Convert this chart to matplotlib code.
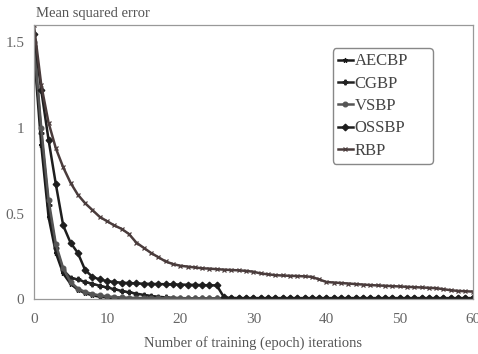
import matplotlib.pyplot as plt
import numpy as np

plt.rcParams['font.family'] = ['Liberation Serif', 'DejaVu Serif']

# epochs 0..60
epochs = list(range(0, 61))

# AECBP - fastest curve
aecbp = [1.45, 0.90, 0.48, 0.27, 0.15, 0.09, 0.055, 0.035, 0.022, 0.014,
         0.009, 0.006, 0.005, 0.004, 0.004, 0.003, 0.003, 0.003, 0.003, 0.003,
         0.003, 0.003, 0.003, 0.003, 0.003, 0.003, 0.003, 0.003, 0.003, 0.003,
         0.003, 0.003, 0.003, 0.003, 0.003, 0.003, 0.003, 0.003, 0.003, 0.003,
         0.003, 0.003, 0.003, 0.003, 0.003, 0.003, 0.003, 0.003, 0.003, 0.003,
         0.003, 0.003, 0.003, 0.003, 0.003, 0.003, 0.003, 0.003, 0.003, 0.003,
         0.003]

# CGBP - flattens near 0.12 then slowly goes down
cgbp = [1.48, 0.97, 0.55, 0.30, 0.17, 0.125, 0.115, 0.10, 0.09, 0.078,
        0.068, 0.058, 0.048, 0.040, 0.032, 0.025, 0.019, 0.014, 0.010, 0.008,
        0.006, 0.005, 0.005, 0.004, 0.004, 0.004, 0.004, 0.004, 0.004, 0.004,
        0.004, 0.004, 0.004, 0.004, 0.004, 0.004, 0.004, 0.004, 0.004, 0.004,
        0.004, 0.004, 0.004, 0.004, 0.004, 0.004, 0.004, 0.004, 0.004, 0.004,
        0.004, 0.004, 0.004, 0.004, 0.004, 0.004, 0.004, 0.004, 0.004, 0.004,
        0.004]

# VSBP
vsbp = [1.50, 1.00, 0.58, 0.32, 0.18, 0.10, 0.062, 0.042, 0.030, 0.022,
        0.016, 0.012, 0.010, 0.008, 0.007, 0.006, 0.006, 0.005, 0.005, 0.005,
        0.005, 0.005, 0.005, 0.005, 0.005, 0.005, 0.005, 0.005, 0.005, 0.005,
        0.005, 0.005, 0.005, 0.005, 0.005, 0.005, 0.005, 0.005, 0.005, 0.005,
        0.005, 0.005, 0.005, 0.005, 0.005, 0.005, 0.005, 0.005, 0.005, 0.005,
        0.005, 0.005, 0.005, 0.005, 0.005, 0.005, 0.005, 0.005, 0.005, 0.005,
        0.005]

# OSSBP - plateau until epoch 25
ossbp = [1.55, 1.22, 0.93, 0.67, 0.43, 0.33, 0.27, 0.17, 0.13, 0.115,
         0.105, 0.100, 0.096, 0.094, 0.092, 0.090, 0.089, 0.088, 0.087, 0.086,
         0.085, 0.084, 0.083, 0.082, 0.081, 0.080, 0.010, 0.007, 0.006, 0.006,
         0.006, 0.006, 0.006, 0.006, 0.006, 0.006, 0.006, 0.006, 0.006, 0.006,
         0.006, 0.006, 0.006, 0.006, 0.006, 0.006, 0.006, 0.006, 0.006, 0.006,
         0.006, 0.006, 0.006, 0.006, 0.006, 0.006, 0.006, 0.006, 0.006, 0.006,
         0.006]

# RBP - slowest
rbp = [1.60, 1.25, 1.03, 0.88, 0.77, 0.68, 0.61, 0.56, 0.52, 0.48,
       0.455, 0.43, 0.41, 0.38, 0.33, 0.30, 0.27, 0.245, 0.22, 0.205,
       0.195, 0.19, 0.185, 0.18, 0.178, 0.175, 0.172, 0.17, 0.168, 0.165,
       0.16, 0.15, 0.145, 0.14, 0.138, 0.136, 0.135, 0.133, 0.13, 0.115,
       0.10, 0.097, 0.094, 0.091, 0.088, 0.085, 0.082, 0.080, 0.078, 0.076,
       0.074, 0.072, 0.070, 0.068, 0.066, 0.064, 0.058, 0.052, 0.048, 0.046,
       0.044]

series = [("AECBP", aecbp, '#1a1a1a', '*'),
          ("CGBP", cgbp, '#222222', 'P'),
          ("VSBP", vsbp, '#555555', 'o'),
          ("OSSBP", ossbp, '#1e1e1e', 'D'),
          ("RBP", rbp, '#4a3c3c', 'x')]

fig = plt.figure(figsize=(4.78, 3.54), dpi=100)
ax = fig.add_axes([0.071, 0.155, 0.918, 0.774])

for name, vals, col, mk in series:
    ax.plot(epochs, vals, color=col, lw=1.8, marker=mk, ms=3.4,
            mew=0.9, label=name)

ax.set_xlim(0, 60)
ax.set_ylim(0, 1.6)
ax.set_xticks([0, 10, 20, 30, 40, 50, 60])
ax.set_yticks([0, 0.5, 1, 1.5])
ax.set_yticklabels(["0", "0.5", "1", "1.5"])
ax.tick_params(length=0, labelsize=11, colors='#666666', pad=7)
ax.tick_params(axis='x', pad=10)
for sp in ax.spines.values():
    sp.set_color('#999999')
    sp.set_linewidth(0.9)

ax.set_xlabel("Number of training (epoch) iterations", fontsize=10.5,
              color='#555555', labelpad=7)
fig.text(0.075, 0.963, "Mean squared error", fontsize=10.5, color='#555555',
         ha='left', va='center')

leg = ax.legend(loc='upper left', bbox_to_anchor=(0.681, 0.5, 0.228, 0.415),
                mode='expand', fontsize=12, handlelength=0.9,
                handletextpad=0.1, labelspacing=0.38, borderpad=0.3,
                borderaxespad=0.0, fancybox=True, framealpha=1)
leg.get_frame().set_edgecolor('#888888')
for t in leg.get_texts():
    t.set_color('#444444')

fig.savefig("out.png", dpi=100)
